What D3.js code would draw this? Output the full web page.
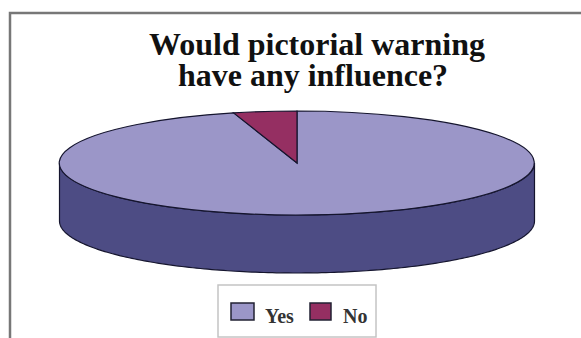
<!DOCTYPE html>
<html>
<head>
<meta charset="utf-8">
<script src="https://cdn.jsdelivr.net/npm/d3@7/dist/d3.min.js"></script>
<style>
html,body{margin:0;padding:0;background:#fff;}
svg{display:block;}
text{font-family:"Liberation Serif",serif;font-weight:bold;fill:#111;}
</style>
</head>
<body>
<svg id="chart" width="581" height="338"></svg>
<script>
const categories = ["Yes", "No"];
const values = [95.7, 4.3];
const colors = ["#9b96c8", "#952f62"];
const sideColor = "#4d4c84";
const titleLines = ["Would pictorial warning", "have any influence?"];

const W = 581, H = 338;
const cx = 297, cy = 163, rx = 237.5, ry = 52, depth = 58;
const svg = d3.select("#chart");

// Chart frame: open on the right and the bottom, as a clipped border
svg.append("path")
  .attr("d", `M10,${H}V13H${W}`)
  .attr("fill", "none")
  .attr("stroke", "#777")
  .attr("stroke-width", 2.5);

// Title
svg.append("g").selectAll("text").data(titleLines).join("text")
  .attr("x", (d, i) => i === 0 ? 317 : 313)
  .attr("y", (d, i) => 55 + i * 31)
  .attr("text-anchor", "middle")
  .attr("font-size", 32)
  .text(d => d);

// Pie layout runs clockwise from twelve o'clock, so the last slice ends at the top
const pie = d3.pie().sort(null).value(d => d);
const slices = pie(values);

// Projected rim points for an angle measured clockwise from the top
const rim = (a, dy) => [cx + rx * Math.sin(a), cy + dy - ry * Math.cos(a)];

// Front wall of the disc, from the right extreme round to the left one
const sweep = d3.range(0, 181).map(i => Math.PI / 2 + i * Math.PI / 180);
const wallLine = d3.line();
const wall = wallLine(sweep.map(a => rim(a, 0))) +
  "L" + wallLine(sweep.slice().reverse().map(a => rim(a, depth))).slice(1) + "Z";
svg.append("path")
  .attr("d", wall)
  .attr("fill", sideColor)
  .attr("stroke", "#15152e")
  .attr("stroke-width", 1.2);

// Top face slices: a unit arc stretched onto the ellipse
const arc = d3.arc().innerRadius(0).outerRadius(1);
svg.append("g")
  .attr("transform", `translate(${cx},${cy}) scale(${rx},${ry})`)
  .selectAll("path").data(slices).join("path")
  .attr("d", arc)
  .attr("fill", (d, i) => colors[i])
  .attr("stroke", "#15152e")
  .attr("stroke-width", 1.2)
  .attr("vector-effect", "non-scaling-stroke");

// Legend
const legend = svg.append("g");
legend.append("rect")
  .attr("x", 218).attr("y", 285)
  .attr("width", 158).attr("height", 52)
  .attr("fill", "#fff")
  .attr("stroke", "#c4c4c4")
  .attr("stroke-width", 1.5);
const swatchX = d3.scaleOrdinal().domain(categories).range([231, 310]);
const labelX = d3.scaleOrdinal().domain(categories).range([265, 343]);
legend.selectAll("rect.key").data(categories).join("rect")
  .attr("class", "key")
  .attr("x", d => swatchX(d))
  .attr("y", 303)
  .attr("width", (d, i) => i === 0 ? 23 : 21).attr("height", 17)
  .attr("fill", (d, i) => colors[i])
  .attr("stroke", "#222233")
  .attr("stroke-width", 1.5);
legend.selectAll("text").data(categories).join("text")
  .attr("x", d => labelX(d))
  .attr("y", 323)
  .attr("font-size", 20)
  .style("fill", "#333")
  .text(d => d);
</script>
</body>
</html>
